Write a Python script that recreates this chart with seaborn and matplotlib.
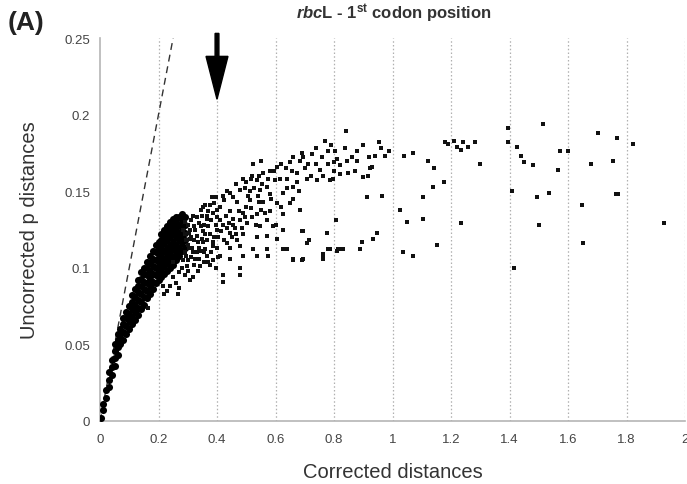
import matplotlib
matplotlib.use("Agg")
import matplotlib.pyplot as plt
import seaborn as sns
import pandas as pd

# ---- data ----
# dense core of the cloud (drawn with larger dots so it reads as a solid band)
core_x = [0.002, 0.01, 0.01,
          0.02, 0.02,
          0.03, 0.03, 0.03,
          0.04, 0.04, 0.04,
          0.05, 0.05, 0.05, 0.05,
          0.06, 0.06, 0.06, 0.06,
          0.07, 0.07, 0.07,
          0.08, 0.08, 0.08, 0.08,
          0.09, 0.09, 0.09, 0.09,
          0.10, 0.10, 0.10, 0.10,
          0.11, 0.11, 0.11, 0.11, 0.11,
          0.12, 0.12, 0.12, 0.12, 0.12,
          0.13, 0.13, 0.13, 0.13, 0.13, 0.13,
          0.14, 0.14, 0.14, 0.14, 0.14, 0.14,
          0.15, 0.15, 0.15, 0.15, 0.15, 0.15,
          0.16, 0.16, 0.16, 0.16, 0.16, 0.16,
          0.17, 0.17, 0.17, 0.17, 0.17, 0.17,
          0.18, 0.18, 0.18, 0.18, 0.18, 0.18,
          0.19, 0.19, 0.19, 0.19, 0.19, 0.19,
          0.20, 0.20, 0.20, 0.20, 0.20, 0.20,
          0.21, 0.21, 0.21, 0.21, 0.21, 0.21, 0.21,
          0.22, 0.22, 0.22, 0.22, 0.22, 0.22, 0.22,
          0.23, 0.23, 0.23, 0.23, 0.23, 0.23, 0.23,
          0.24, 0.24, 0.24, 0.24, 0.24, 0.24, 0.24,
          0.25, 0.25, 0.25, 0.25, 0.25, 0.25, 0.25,
          0.26, 0.26, 0.26, 0.26, 0.26, 0.26, 0.26,
          0.27, 0.27, 0.27, 0.27, 0.27, 0.27,
          0.28, 0.28, 0.28, 0.28, 0.28, 0.28,
          0.29, 0.29, 0.29, 0.29, 0.29]
core_y = [0.002, 0.007, 0.011,
          0.015, 0.020,
          0.022, 0.027, 0.032,
          0.030, 0.035, 0.040,
          0.036, 0.041, 0.046, 0.050,
          0.043, 0.048, 0.053, 0.057,
          0.050, 0.055, 0.060,
          0.053, 0.058, 0.063, 0.067,
          0.057, 0.062, 0.067, 0.071,
          0.060, 0.065, 0.070, 0.075,
          0.063, 0.068, 0.073, 0.078, 0.082,
          0.066, 0.071, 0.076, 0.081, 0.086,
          0.069, 0.074, 0.079, 0.084, 0.088, 0.092,
          0.073, 0.078, 0.083, 0.088, 0.093, 0.097,
          0.076, 0.081, 0.086, 0.091, 0.096, 0.100,
          0.080, 0.085, 0.090, 0.095, 0.100, 0.104,
          0.083, 0.088, 0.093, 0.098, 0.103, 0.108,
          0.086, 0.091, 0.096, 0.101, 0.106, 0.111,
          0.090, 0.095, 0.100, 0.105, 0.110, 0.115,
          0.092, 0.097, 0.102, 0.107, 0.112, 0.117,
          0.094, 0.099, 0.104, 0.109, 0.114, 0.118, 0.122,
          0.096, 0.101, 0.106, 0.111, 0.116, 0.121, 0.125,
          0.098, 0.103, 0.108, 0.113, 0.118, 0.123, 0.127,
          0.100, 0.105, 0.110, 0.115, 0.120, 0.125, 0.130,
          0.102, 0.107, 0.112, 0.117, 0.122, 0.127, 0.132,
          0.105, 0.110, 0.115, 0.120, 0.125, 0.130, 0.133,
          0.108, 0.113, 0.118, 0.123, 0.128, 0.133,
          0.111, 0.116, 0.121, 0.126, 0.131, 0.135,
          0.113, 0.118, 0.123, 0.128, 0.133]

# individual pairwise distances outside the core
pts_x = [0.523, 0.557, 0.605, 0.650, 0.684, 0.725, 0.780, 0.752, 0.810,
         0.489, 0.500, 0.537, 0.571, 0.598, 0.639, 0.673, 0.708, 0.742, 0.762, 0.786,
         0.444, 0.479, 0.513, 0.547, 0.581, 0.626, 0.660,
         0.383, 0.421, 0.468, 0.513, 0.557, 0.605, 0.650, 0.684,
         0.352, 0.400, 0.444, 0.489, 0.537, 0.581, 0.626,
         0.318, 0.366, 0.410, 0.455, 0.502, 0.547, 0.591, 0.626, 0.694, 0.776,
         0.308, 0.352, 0.400, 0.444, 0.489, 0.537, 0.571, 0.605,
         0.308, 0.352, 0.386, 0.434, 0.479, 0.523, 0.571, 0.626, 0.660, 0.694, 0.762, 0.786, 0.810,
         0.318, 0.366, 0.410, 0.444, 0.489, 0.537,
         0.250, 0.297, 0.342, 0.376, 0.421, 0.479, 0.318, 0.421, 0.479, 0.267, 0.215, 0.164, 0.308,
         0.290, 0.300, 0.310, 0.320, 0.330, 0.340, 0.350, 0.290, 0.300, 0.310, 0.320, 0.330,
         0.340, 0.350, 0.360, 0.370, 0.380, 0.390, 0.400, 0.290, 0.300, 0.310, 0.320, 0.330,
         0.340, 0.360, 0.370, 0.380, 0.270, 0.280, 0.290, 0.300, 0.260, 0.270, 0.250, 0.240,
         0.230, 0.220, 0.360, 0.370, 0.390, 0.400, 0.410, 0.420, 0.430, 0.440, 0.450, 0.460,
         0.470, 0.480, 0.500, 0.520, 0.540, 0.550, 0.570, 0.600, 0.620, 0.640, 0.660, 0.680,
         0.700, 0.720, 0.740, 0.760, 0.780, 0.800, 0.820, 0.860, 0.880, 0.900, 0.920, 0.960,
         0.520, 0.550, 0.580, 0.620, 0.660, 0.690, 0.710, 0.740, 0.770, 0.790,
         0.690, 0.776, 0.714, 0.707, 0.639, 0.780, 0.817, 0.762, 0.762, 0.660, 0.690, 0.574,
         0.841, 0.803, 0.838, 0.800, 0.844, 0.879, 0.954, 0.940, 0.974, 0.988, 0.930, 0.923,
         0.797, 0.821, 0.848, 0.872, 0.899, 0.916, 0.913, 0.964, 0.807, 0.814, 0.831, 0.889,
         0.896, 0.933, 0.947,
         1.039, 1.070, 1.121, 1.142, 1.138, 1.176, 1.104, 1.026, 1.050, 1.104, 1.152, 1.036,
         1.070, 1.179, 1.190, 1.210, 1.221, 1.234, 1.241, 1.258, 1.282, 1.299, 1.234,
         1.395, 1.395, 1.426, 1.439, 1.450, 1.480, 1.515, 1.573, 1.600, 1.566, 1.409, 1.494,
         1.535, 1.501, 1.415, 1.703, 1.768, 1.679, 1.754, 1.764, 1.770, 1.648, 1.651, 1.822,
         1.928,
         0.285, 0.295, 0.305, 0.315, 0.325, 0.335, 0.345, 0.355, 0.365, 0.375, 0.385, 0.395,
         0.405, 0.415, 0.425, 0.435, 0.445, 0.455, 0.465, 0.475, 0.485, 0.495, 0.505, 0.515,
         0.525, 0.535, 0.545, 0.555, 0.565, 0.575, 0.585, 0.595, 0.615, 0.635, 0.655, 0.675,
         0.695, 0.285, 0.295, 0.305, 0.325, 0.335, 0.345, 0.355, 0.385, 0.395, 0.405, 0.345,
         0.355, 0.365, 0.375, 0.385, 0.395, 0.425, 0.435, 0.455, 0.465, 0.495, 0.515, 0.545]
pts_y = [0.168, 0.162, 0.166, 0.169, 0.170, 0.174, 0.176, 0.164, 0.171,
         0.158, 0.156, 0.157, 0.153, 0.157, 0.158, 0.162, 0.158, 0.157, 0.160, 0.157,
         0.149, 0.151, 0.150, 0.151, 0.148, 0.149, 0.153,
         0.146, 0.147, 0.143, 0.144, 0.143, 0.142, 0.142, 0.138,
         0.140, 0.138, 0.137, 0.136, 0.135, 0.137, 0.135,
         0.134, 0.132, 0.131, 0.132, 0.129, 0.127, 0.127, 0.125, 0.124, 0.123,
         0.125, 0.124, 0.125, 0.123, 0.122, 0.120, 0.121, 0.119,
         0.119, 0.117, 0.117, 0.116, 0.114, 0.112, 0.112, 0.112, 0.106, 0.106, 0.108, 0.112, 0.111,
         0.110, 0.108, 0.108, 0.106, 0.108, 0.108,
         0.104, 0.101, 0.101, 0.102, 0.095, 0.095, 0.094, 0.091, 0.100, 0.083, 0.088, 0.074, 0.092,
         0.130, 0.128, 0.131, 0.127, 0.133, 0.129, 0.134, 0.122, 0.115, 0.120, 0.118, 0.121,
         0.113, 0.119, 0.122, 0.127, 0.131, 0.120, 0.113, 0.110, 0.105, 0.107, 0.102, 0.110,
         0.106, 0.112, 0.104, 0.110, 0.097, 0.100, 0.095, 0.098, 0.090, 0.087, 0.094, 0.088,
         0.085, 0.083, 0.141, 0.137, 0.142, 0.133, 0.140, 0.128, 0.134, 0.129, 0.120, 0.126,
         0.118, 0.131, 0.140, 0.133, 0.147, 0.138, 0.131, 0.128, 0.140, 0.152, 0.145, 0.150,
         0.165, 0.160, 0.168, 0.172, 0.168, 0.163, 0.167, 0.172, 0.176, 0.180, 0.172, 0.178,
         0.160, 0.170, 0.163, 0.168, 0.172, 0.175, 0.168, 0.178, 0.183, 0.180,
         0.124, 0.123, 0.118, 0.116, 0.112, 0.112, 0.112, 0.109, 0.106, 0.105, 0.105, 0.108,
         0.189, 0.176, 0.178, 0.169, 0.170, 0.170, 0.182, 0.173, 0.173, 0.176, 0.166, 0.165,
         0.158, 0.161, 0.162, 0.163, 0.159, 0.160, 0.146, 0.147, 0.131, 0.112, 0.112, 0.112,
         0.117, 0.119, 0.123,
         0.173, 0.175, 0.170, 0.165, 0.153, 0.156, 0.146, 0.138, 0.130, 0.132, 0.115, 0.110,
         0.108, 0.182, 0.181, 0.183, 0.179, 0.177, 0.182, 0.179, 0.182, 0.168, 0.129,
         0.191, 0.182, 0.179, 0.173, 0.169, 0.167, 0.194, 0.176, 0.176, 0.164, 0.150, 0.146,
         0.149, 0.128, 0.100, 0.188, 0.185, 0.168, 0.170, 0.148, 0.148, 0.141, 0.116, 0.181,
         0.129,
         0.125, 0.118, 0.123, 0.113, 0.125, 0.117, 0.127, 0.110, 0.118, 0.122, 0.114, 0.128,
         0.120, 0.124, 0.118, 0.126, 0.113, 0.128, 0.122, 0.137, 0.126, 0.133, 0.147, 0.139,
         0.152, 0.128, 0.143, 0.155, 0.136, 0.158, 0.145, 0.163, 0.158, 0.165, 0.163, 0.156,
         0.172, 0.105, 0.108, 0.113, 0.106, 0.098, 0.111, 0.104, 0.105, 0.100, 0.107, 0.138,
         0.128, 0.134, 0.141, 0.136, 0.146, 0.144, 0.150, 0.146, 0.155, 0.152, 0.158, 0.160]

x_ticks = [0, 0.2, 0.4, 0.6, 0.8, 1.0, 1.2, 1.4, 1.6, 1.8, 2.0]
x_tick_labels = ["0", "0.2", "0.4", "0.6", "0.8", "1", "1.2", "1.4", "1.6", "1.8", "2"]
y_ticks = [0, 0.05, 0.1, 0.15, 0.2, 0.25]
y_tick_labels = ["0", "0.05", "0.1", "0.15", "0.2", "0.25"]
identity_line = [0, 0.25]     # y = x reference line end points
arrow_at = 0.4                # saturation marker

core = pd.DataFrame({"corrected": core_x, "uncorrected": core_y})
pts = pd.DataFrame({"corrected": pts_x, "uncorrected": pts_y})

# ---- figure ----
sns.set_style("white")
plt.rcParams["font.family"] = ["Liberation Sans", "DejaVu Sans"]
plt.rcParams["mathtext.fontset"] = "custom"
plt.rcParams["mathtext.it"] = "Liberation Sans:bold:italic"
plt.rcParams["mathtext.bf"] = "Liberation Sans:bold"
plt.rcParams["mathtext.rm"] = "Liberation Sans:bold"

fig = plt.figure(figsize=(6.87, 4.85), dpi=100)
ax = fig.add_axes([100 / 687, 63 / 485, 585 / 687, 383 / 485])

ax.set_xlim(0, 2)
ax.set_ylim(0, 0.25)

# vertical dotted gridlines
for xv in x_ticks[1:]:
    ax.axvline(xv, color="#b0b0b0", lw=0.9, ls=(0, (1.2, 1.8)), zorder=0)

# y = x dashed line
ax.plot(identity_line, identity_line, color="#333333", lw=1.0, ls=(0, (5, 3.5)), zorder=1)

sns.scatterplot(data=core, x="corrected", y="uncorrected", ax=ax, color="black",
                s=26, linewidth=0, marker="o", zorder=3, legend=False)
sns.scatterplot(data=pts, x="corrected", y="uncorrected", ax=ax, color="#111111",
                s=10, linewidth=0, marker="s", zorder=3, legend=False)

# arrow
ax.arrow(arrow_at, 0.2530, 0, -0.0430, width=0.013, head_width=0.075, head_length=0.028,
         length_includes_head=True, color="black", clip_on=False, zorder=5)

ax.set_xticks(x_ticks)
ax.set_xticklabels(x_tick_labels)
ax.set_yticks(y_ticks)
ax.set_yticklabels(y_tick_labels)
ax.tick_params(axis="both", labelsize=9.5, colors="#444444", length=3, width=0.8,
               color="#aaaaaa", pad=4)
ax.tick_params(axis="x", length=0, pad=9)

for side in ["top", "right"]:
    ax.spines[side].set_visible(False)
for side in ["left", "bottom"]:
    ax.spines[side].set_color("#b5b5b5")
    ax.spines[side].set_linewidth(1.2)

ax.set_xlabel("Corrected distances", fontsize=14.5, color="#333333", labelpad=12)
ax.set_ylabel("Uncorrected p distances", fontsize=14.5, color="#333333", labelpad=18)

fig.text(394 / 687, 1 - 14 / 485, r"$\mathit{rbc}$L - 1$^{\mathbf{st}}$ codon position",
         ha="center", va="center", fontsize=12, fontweight="bold", color="#333333")
fig.text(8 / 687, 1 - 23 / 485, "(A)", ha="left", va="center", fontsize=19,
         fontweight="bold", color="#222222")

fig.savefig("out.png", dpi=100)
